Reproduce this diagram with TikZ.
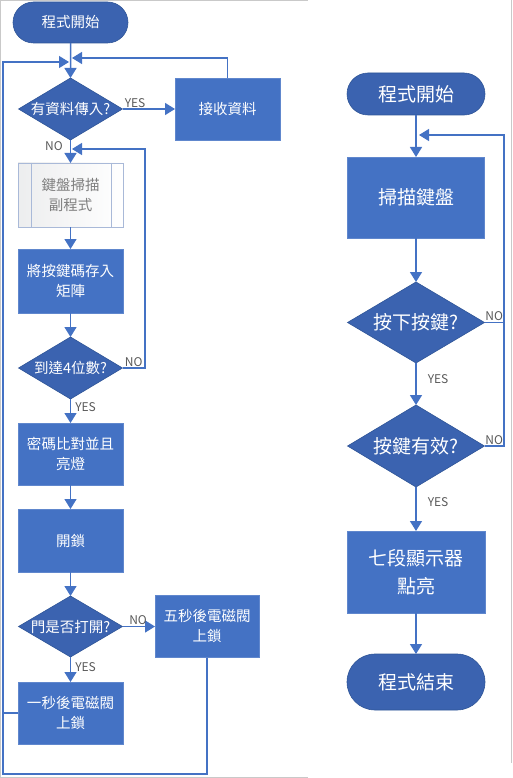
\documentclass[tikz,border=0pt]{standalone}
\usepackage{fontspec}
\setmainfont{Noto Sans CJK TC}
\usetikzlibrary{shapes.geometric,shapes.misc,arrows.meta}
\definecolor{kblue}{HTML}{4472C4}
\definecolor{kdark}{HTML}{3B63B0}
\definecolor{kedge}{HTML}{2F5597}
\definecolor{klbltext}{HTML}{595959}
\definecolor{kframe}{HTML}{C9C9C9}
\definecolor{ksubfill}{HTML}{F4F6FA}
\definecolor{ksubedge}{HTML}{A9B9D8}
\definecolor{ksubtext}{HTML}{7F7F7F}
\begin{document}
\begin{tikzpicture}[x=1pt,y=-1pt,
  ksmall/.style={font=\fontsize{14.5}{20}\selectfont},
  kbig/.style={font=\fontsize{19}{28}\selectfont},
  kbox/.style={rectangle,fill=kblue,draw=kblue!85!white,line width=0.6pt,text=white,align=center,
    inner sep=0pt,outer sep=0pt,minimum width=105pt,minimum height=63pt},
  ksub/.style={kbox,left color=ksubfill!70!gray!40,right color=white,draw=ksubedge,text=ksubtext},
  kdia/.style={diamond,aspect=1.68,fill=kdark,draw=kedge,line width=0.6pt,text=white,align=center,
    inner sep=0pt,outer sep=0pt,minimum width=104pt,minimum height=62pt},
  kterm/.style={rounded rectangle,fill=kdark,draw=kedge,line width=0.6pt,text=white,
    inner sep=0pt,outer sep=0pt},
  kline/.style={draw=kblue,line width=1.5pt},
  karrow/.style={kline,-{Triangle[length=10pt,width=12pt]}},
  klbl/.style={font=\fontsize{12}{14}\selectfont,text=klbltext,inner sep=1pt}]
\useasboundingbox (0,0) rectangle (513,778);
\pgfmathsetmacro{\klx}{70.5}
\pgfmathsetmacro{\krx}{416}
% frames of the two screenshots
\draw[kframe,line width=1pt] (0.5,777) -- (0.5,1) -- (308,1);
\draw[kframe,line width=1pt] (0,777) -- (308,777);
\draw[kframe,line width=1pt] (511.5,0) -- (511.5,763);
% left chart
\node[kterm,ksmall,minimum width=115pt,minimum height=41pt] (lstart) at (\klx,22.5) {程式開始};
\node[kdia,ksmall] (ldata) at (\klx,109) {有資料傳入?};
\node[kbox,ksmall,minimum height=62pt] (lrecv) at (227.5,109) {接收資料};
\node[ksub,ksmall,minimum height=64pt] (lsub) at (\klx,195) {鍵盤掃描\\副程式};
\node[kbox,ksmall,minimum height=64pt] (lstore) at (\klx,281) {將按鍵碼存入\\矩陣};
\node[kdia,ksmall] (lfour) at (\klx,368) {到達4位數?};
\node[kbox,ksmall,minimum height=62pt] (lcomp) at (\klx,454) {密碼比對並且\\亮燈};
\node[kbox,ksmall] (lopen) at (\klx,540.5) {開鎖};
\node[kdia,ksmall,minimum height=61pt] (ldoor) at (\klx,626.5) {門是否打開?};
\node[kbox,ksmall,minimum width=104pt,minimum height=62pt] (lfive) at (207,626.5) {五秒後電磁閥\\上鎖};
\node[kbox,ksmall,minimum height=62pt] (lone) at (\klx,713) {一秒後電磁閥\\上鎖};
\draw[ksubedge,line width=0.8pt] ([xshift=13pt]lsub.north west) -- ([xshift=13pt]lsub.south west);
\draw[ksubedge,line width=0.8pt] ([xshift=-12pt]lsub.north east) -- ([xshift=-12pt]lsub.south east);
\coordinate (lmergeL) at (69,62);
\coordinate (lmergeR) at (72,58);
\coordinate (lmergeN) at (72,149);
\coordinate (lcornerN) at (145,368);
\coordinate (lcornerB) at (3,774);
\draw[karrow] (lstart) -- (ldata);
\draw[karrow] (ldata) -- node[klbl,pos=0.24,above]{YES} (lrecv);
\draw[karrow] (ldata) -- node[klbl,pos=0.26,left=6pt]{NO} (lsub);
\draw[karrow] (lsub) -- (lstore);
\draw[karrow] (lstore) -- (lfour);
\draw[karrow] (lfour) -- node[klbl,pos=0.33,right=3pt]{YES} (lcomp);
\draw[karrow] (lcomp) -- (lopen);
\draw[karrow] (lopen) -- (ldoor);
\draw[karrow] (ldoor) -- node[klbl,pos=0.48,above]{NO} (lfive);
\draw[karrow] (ldoor) -- node[klbl,pos=0.4,right=3pt]{YES} (lone);
\draw[karrow,line width=1.3pt] (lrecv.north) |- (lmergeR);
\draw[karrow,line width=1.3pt] (lfour.east) -- node[klbl,above]{NO} (lcornerN) |- (lmergeN);
\draw[karrow,line width=1.3pt] (lfive.south) |- (lcornerB) |- (lmergeL);
\draw[kline,line width=1.3pt] (lone.west) -- (lone.west -| lcornerB);
% right chart
\node[kterm,kbig,minimum width=138pt,minimum height=42pt] (rstart) at (\krx,94) {程式開始};
\node[kbox,kbig,minimum width=137pt,minimum height=81pt] (rscan) at (\krx,197.5) {掃描鍵盤};
\node[kdia,kbig,aspect=1.69,minimum width=137pt,minimum height=81pt] (rpress) at (\krx,322.5) {按下按鍵?};
\node[kdia,kbig,aspect=1.69,minimum width=137pt,minimum height=82pt] (rvalid) at (\krx,446) {按鍵有效?};
\node[kbox,kbig,minimum width=138pt,minimum height=82pt] (rshow) at (\krx,572) {七段顯示器\\點亮};
\node[kterm,kbig,minimum width=138pt,minimum height=56pt] (rend) at (\krx,682) {程式結束};
\coordinate (rmerge) at (419,135);
\coordinate (rcorner) at (504,446);
\draw[karrow] (rstart) -- (rscan);
\draw[karrow] (rscan) -- (rpress);
\draw[karrow] (rpress) -- node[klbl,pos=0.38,right=10pt]{YES} (rvalid);
\draw[karrow] (rvalid) -- node[klbl,pos=0.34,right=10pt]{YES} (rshow);
\draw[karrow] (rshow) -- (rend);
\draw[karrow,line width=1.3pt] (rvalid.east) -- node[klbl,above]{NO} (rcorner) |- (rmerge);
\draw[kline,line width=1.3pt] (rpress.east) -- node[klbl,above]{NO} (rpress.east -| rcorner);
\end{tikzpicture}
\end{document}
